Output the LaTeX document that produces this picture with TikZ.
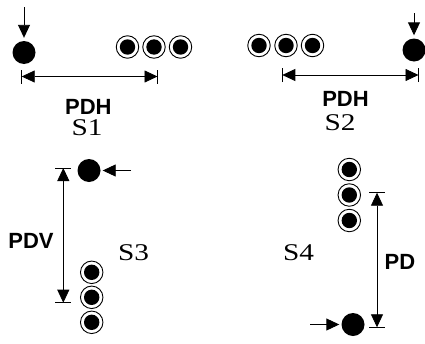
\documentclass[tikz,border=0pt]{standalone}
\usepackage{fontspec}
\setmainfont{Liberation Serif}
\setsansfont{Liberation Sans}
\usetikzlibrary{arrows.meta}
\newcommand{\widesl}[1]{\scalebox{1.22}[1]{#1}}
\begin{document}
\begin{tikzpicture}[x=1pt,y=-1pt,
  dot/.style={circle, fill=black, minimum size=23pt, inner sep=0pt},
  ring/.style={circle, draw=black, line width=0.9pt, minimum size=22.5pt, inner sep=0pt,
    path picture={\fill[black] (path picture bounding box.center) circle (7.7pt);}},
  lbl/.style={font=\sffamily\bfseries\fontsize{22}{22}\selectfont, anchor=base, inner sep=0pt, text depth=0pt},
  slbl/.style={font=\rmfamily\fontsize{24}{24}\selectfont, anchor=base, inner sep=0pt, text height=16pt, text depth=0pt},
  feed/.style={line width=0.9pt, -{Triangle[length=13pt,width=12pt]}},
  dimline/.style={line width=0.8pt, {Triangle[length=13pt,width=12pt]}-{Triangle[length=13pt,width=12pt]}},
  bar/.style={line width=0.9pt}]
\useasboundingbox (0,0) rectangle (425,343);

% ---------- S1 ----------
\node[dot] (d1) at (24,52.5) {};
\coordinate (f1) at (24,7);
\draw[feed, shorten >=3pt] (f1) -- (d1);
\node[ring] (r1a) at (127.5,47) {};
\node[ring] (r1b) at (154,47) {};
\node[ring] (r1c) at (180.5,47) {};
\coordinate (h1l) at (21.7,76.5);
\coordinate (h1r) at (157.5,76.5);
\draw[dimline] (h1l) -- (h1r);
\draw[bar] ([yshift=-7pt]h1l) -- ([yshift=7pt]h1l);
\draw[bar] ([yshift=-7pt]h1r) -- ([yshift=7pt]h1r);
\node[lbl] (p1) at (88.3,114.5) {PDH};
\node[slbl] (s1) at (87,135.5) {\widesl{S1}};

% ---------- S2 ----------
\node[dot] (d2) at (414,50) {};
\coordinate (f2) at (414,13);
\draw[feed, shorten >=3pt] (f2) -- (d2);
\node[ring] (r2a) at (259,45.5) {};
\node[ring] (r2b) at (286,45.5) {};
\node[ring] (r2c) at (312.5,45.5) {};
\coordinate (h2l) at (282.3,75);
\coordinate (h2r) at (418.5,75);
\draw[dimline] (h2l) -- (h2r);
\draw[bar] ([yshift=-7pt]h2l) -- ([yshift=7pt]h2l);
\draw[bar] ([yshift=-7pt]h2r) -- ([yshift=7pt]h2r);
\node[lbl] (p2) at (345.5,106.5) {PDH};
\node[slbl] (s2) at (340,130.5) {\widesl{S2}};

% ---------- S3 ----------
\node[dot] (d3) at (89,170.5) {};
\coordinate (f3) at (131,170.5);
\draw[feed, shorten >=2pt] (f3) -- (d3);
\node[ring] (r3a) at (91.7,272.3) {};
\node[ring] (r3b) at (91.7,297.3) {};
\node[ring] (r3c) at (91.7,322.3) {};
\coordinate (v3t) at (63.3,168);
\coordinate (v3b) at (63.3,302.7);
\draw[dimline] (v3t) -- (v3b);
\draw[bar] ([xshift=-8pt]v3t) -- ([xshift=8pt]v3t);
\draw[bar] ([xshift=-8pt]v3b) -- ([xshift=8pt]v3b);
\node[lbl] (p3) at (31,248) {PDV};
\node[slbl] (s3) at (133.5,260) {\widesl{S3}};

% ---------- S4 ----------
\node[dot] (d4) at (353,324.5) {};
\coordinate (f4) at (310,324.5);
\draw[feed, shorten >=2pt] (f4) -- (d4);
\node[ring] (r4a) at (349.3,169.5) {};
\node[ring] (r4b) at (349.3,195) {};
\node[ring] (r4c) at (349.3,220.5) {};
\coordinate (v4t) at (377,192.7);
\coordinate (v4b) at (377,327.3);
\draw[dimline] (v4t) -- (v4b);
\draw[bar] ([xshift=-8pt]v4t) -- ([xshift=8pt]v4t);
\draw[bar] ([xshift=-8pt]v4b) -- ([xshift=8pt]v4b);
\node[lbl] (p4) at (400,269.3) {PD};
\node[slbl] (s4) at (298.5,260) {\widesl{S4}};
\end{tikzpicture}
\end{document}
